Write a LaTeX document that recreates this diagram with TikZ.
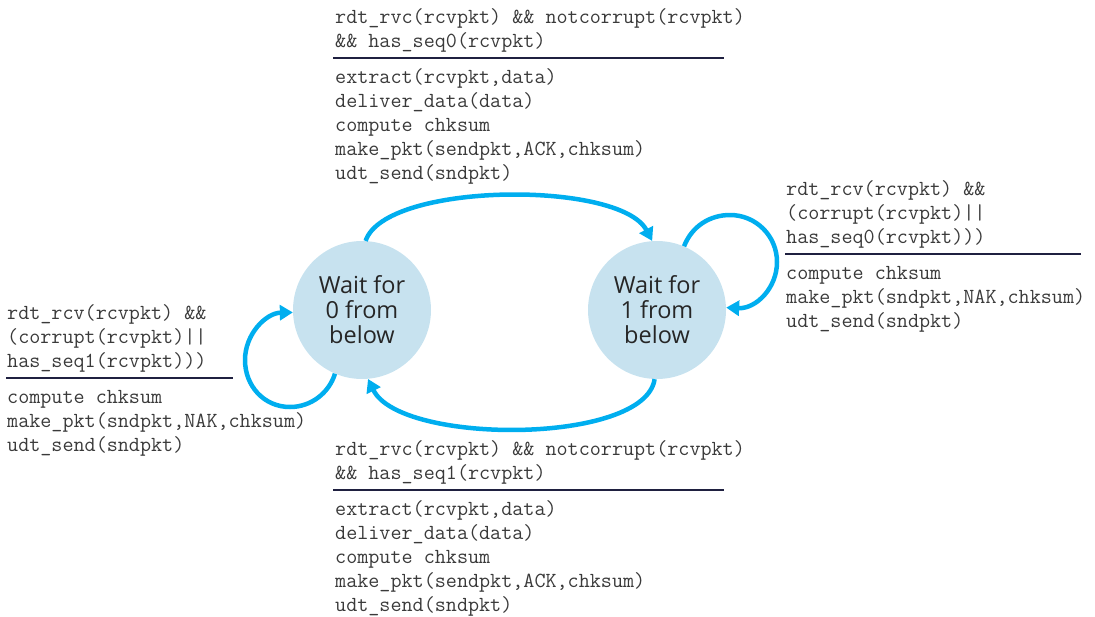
\documentclass[tikz,border=0pt]{standalone}
\usepackage{fontspec}
\setmainfont{Open Sans}
\usetikzlibrary{arrows.meta}
\definecolor{fsmblue}{HTML}{00AEEF}
\definecolor{statefill}{HTML}{C7E2EF}
\definecolor{barcol}{HTML}{1F2040}
\definecolor{codegray}{HTML}{3A3A3A}

\begin{document}
\begin{tikzpicture}[x=1pt,y=-1pt,
    state/.style={circle,fill=statefill,minimum size=138pt,inner sep=0pt,align=center,
      font=\fontsize{23.5}{25}\selectfont,text=black!85},
    trans/.style={draw=fsmblue,line width=4.5pt,-{Triangle[length=13pt,width=15pt]}},
    code/.style={anchor=north west,inner sep=0pt,align=left,
      font=\ttfamily\fontsize{21.5}{24}\selectfont,text=codegray},
    bar/.style={draw=barcol,line width=1.2pt}]
    \useasboundingbox (0,0) rectangle (1095,616);

    % states
    \node[state] (wait0) at (362,310) {Wait for\\0 from\\below};
    \node[state] (wait1) at (657,310) {Wait for\\1 from\\below};

    % transitions
    \draw[trans] (wait0.87) .. controls (385,182) and (620,180) .. (wait1.94);
    \draw[trans] (wait1.268) .. controls (645,445) and (400,445) .. (wait0.275);
    \draw[trans] (wait0.247) .. controls (329,393) and (311,407) .. (290,407)
        .. controls (264,407) and (245,386) .. (245,360)
        .. controls (245,334) and (266,313) .. (wait0.182);
    \draw[trans] (wait1.67) .. controls (692,226) and (710,215) .. (730,215)
        .. controls (756,215) and (777,236) .. (777,262)
        .. controls (777,288) and (756,309) .. (wait1.2);

    % top: 0 -> 1
    \node[code] (cond01) at (335,8) {rdt\_rvc(rcvpkt) \&\& notcorrupt(rcvpkt)\\\&\& has\_seq0(rcvpkt)};
    \draw[bar] (333,58) -- (724,58);
    \node[code] (act01) at (335,68) {extract(rcvpkt,data)\\deliver\_data(data)\\compute chksum\\make\_pkt(sendpkt,ACK,chksum)\\udt\_send(sndpkt)};

    % right: 1 -> 1
    \node[code] (cond11) at (786,180) {rdt\_rcv(rcvpkt) \&\&\\(corrupt(rcvpkt)||\\has\_seq0(rcvpkt)))};
    \draw[bar] (785,254) -- (1081,254);
    \node[code] (act11) at (786,266) {compute chksum\\make\_pkt(sndpkt,NAK,chksum)\\udt\_send(sndpkt)};

    % left: 0 -> 0
    \node[code] (cond00) at (7,304) {rdt\_rcv(rcvpkt) \&\&\\(corrupt(rcvpkt)||\\has\_seq1(rcvpkt)))};
    \draw[bar] (6,378) -- (233,378);
    \node[code] (act00) at (7,390) {compute chksum\\make\_pkt(sndpkt,NAK,chksum)\\udt\_send(sndpkt)};

    % bottom: 1 -> 0
    \node[code] (cond10) at (335,440) {rdt\_rvc(rcvpkt) \&\& notcorrupt(rcvpkt)\\\&\& has\_seq1(rcvpkt)};
    \draw[bar] (333,490) -- (724,490);
    \node[code] (act10) at (335,500) {extract(rcvpkt,data)\\deliver\_data(data)\\compute chksum\\make\_pkt(sendpkt,ACK,chksum)\\udt\_send(sndpkt)};
\end{tikzpicture}
\end{document}
